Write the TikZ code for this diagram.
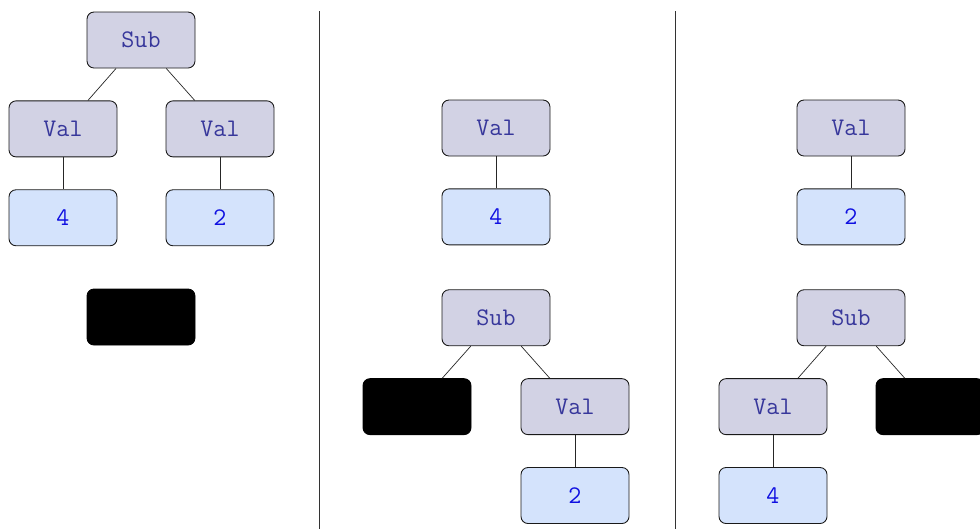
\documentclass[tikz,border=0pt]{standalone}
\usepackage{tikz}
\usetikzlibrary{positioning}
\definecolor{opfill}{RGB}{210,210,228}
\definecolor{optext}{RGB}{55,55,155}
\definecolor{numfill}{RGB}{212,227,252}
\definecolor{numtext}{RGB}{15,15,225}
\tikzset{
    %Define style for expression boxes
    expr/.style={
           rectangle,
           rounded corners,
           draw=black!90, line width=0.5pt,
           minimum width=2.16cm,
           minimum height=1.12cm,
           font=\Large\ttfamily,
           text centered},
    opbox/.style={expr, fill=opfill, text=optext},
    numbox/.style={expr, fill=numfill, text=numtext},
    hole/.style={expr, draw=black, fill=black},
    % Define style for panel separators
    divider/.style={
           line width=0.5pt,
           draw=black!80}
}

\begin{document}
\begin{tikzpicture}[node distance=0.64cm]
\useasboundingbox (0,0) rectangle (19.6,-10.58);

 %first panel
\node[opbox] (sub1) at (2.82,-0.8) {Sub};
\node[opbox, below=of sub1, xshift=-1.56cm] (val1a) {Val};
\node[opbox, below=of sub1, xshift=1.58cm] (val1b) {Val};
\node[numbox, below=of val1a] (num1a) {4};
\node[numbox, below=of val1b] (num1b) {2};
\node[hole] (hole1) at (2.82,-6.34) {};

 %second panel
\node[opbox] (val2) at (9.92,-2.56) {Val};
\node[numbox, below=of val2] (num2) {4};
\node[opbox, below=0.88cm of num2] (sub2) {Sub};
\node[hole, below=of sub2, xshift=-1.58cm] (hole2) {};
\node[opbox, below=of sub2, xshift=1.58cm] (val2b) {Val};
\node[numbox, below=of val2b] (num2b) {2};

 %third panel
\node[opbox] (val3) at (17.02,-2.56) {Val};
\node[numbox, below=of val3] (num3) {2};
\node[opbox, below=0.88cm of num3] (sub3) {Sub};
\node[opbox, below=of sub3, xshift=-1.56cm] (val3b) {Val};
\node[hole, below=of sub3, xshift=1.58cm] (hole3) {};
\node[numbox, below=of val3b] (num3b) {4};

 %tree edges
\path[draw=black!85]
    (sub1) edge (val1a)
    (sub1) edge (val1b)
    (val1a) edge (num1a)
    (val1b) edge (num1b)
    (val2) edge (num2)
    (sub2) edge (hole2)
    (sub2) edge (val2b)
    (val2b) edge (num2b)
    (val3) edge (num3)
    (sub3) edge (val3b)
    (sub3) edge (hole3)
    (val3b) edge (num3b);

 %separators
\coordinate (d1top) at (6.38,-0.22);
\coordinate (d1bot) at (6.38,-10.58);
\coordinate (d2top) at (13.50,-0.22);
\coordinate (d2bot) at (13.50,-10.58);
\draw[divider] (d1top) -- (d1bot);
\draw[divider] (d2top) -- (d2bot);
\end{tikzpicture}
\end{document}
